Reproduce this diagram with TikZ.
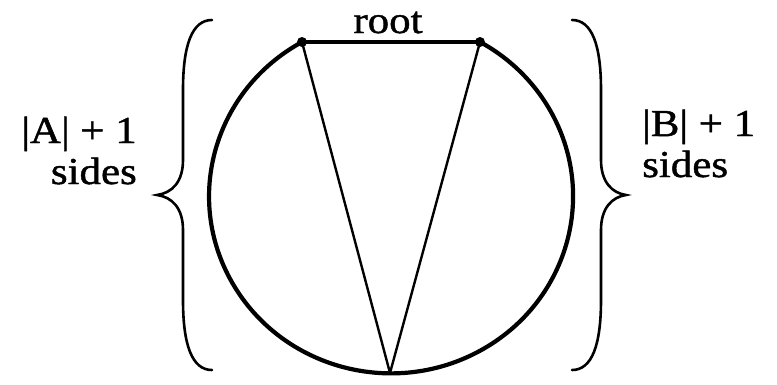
\documentclass[tikz,border=0pt]{standalone}
\usepackage{fontspec}
\setmainfont{Liberation Serif}
\newfontfamily\lblfont[FakeStretch=1.13,FakeBold=1.2]{Liberation Serif}
\begin{document}
\begin{tikzpicture}[x=1pt,y=-1pt,
  vdot/.style={circle,fill=black,inner sep=0pt,minimum size=10pt},
  rim/.style={line width=4.2pt},
  rootline/.style={line width=3.6pt},
  chord/.style={line width=2.4pt},
  bracepath/.style={line width=2.6pt,line cap=round},
  lbl/.style={font=\lblfont\fontsize{38}{41}\selectfont,inner sep=0pt}]
\useasboundingbox (0,0) rectangle (777,384);
% endpoints of the root chord and the bottom vertex
\node[vdot] (L) at (302,42) {};
\node[vdot] (R) at (480,42) {};
\coordinate (B) at (390,373);
% circle arc below the root
\draw[rim] (L.center) arc[start angle=119.3, end angle=420.7, x radius=182pt, y radius=177pt];
% chords
\draw[rootline] (L.center) -- (R.center);
\draw[chord] (L.center) -- (B);
\draw[chord] (R.center) -- (B);
% texts
\node[lbl,anchor=base] (root) at (388,33) {root};
\node[lbl,anchor=base east,align=right] (la) at (137,184) {|A| + 1\\sides};
\node[lbl,anchor=base west,align=left] (lb) at (642,177) {|B| + 1\\sides};
% braces
\draw[bracepath] (212,20) .. controls (192,20) and (183,45) .. (183,90) -- (183,160)
  .. controls (183,182) and (172,193) .. (157,195)
  .. controls (172,197) and (183,208) .. (183,230) -- (183,300)
  .. controls (183,345) and (192,370) .. (212,370);
\draw[bracepath] (572,20) .. controls (592,20) and (601,45) .. (601,90) -- (601,160)
  .. controls (601,182) and (612,193) .. (626,195)
  .. controls (612,197) and (601,208) .. (601,230) -- (601,300)
  .. controls (601,345) and (592,370) .. (572,370);
\end{tikzpicture}
\end{document}
